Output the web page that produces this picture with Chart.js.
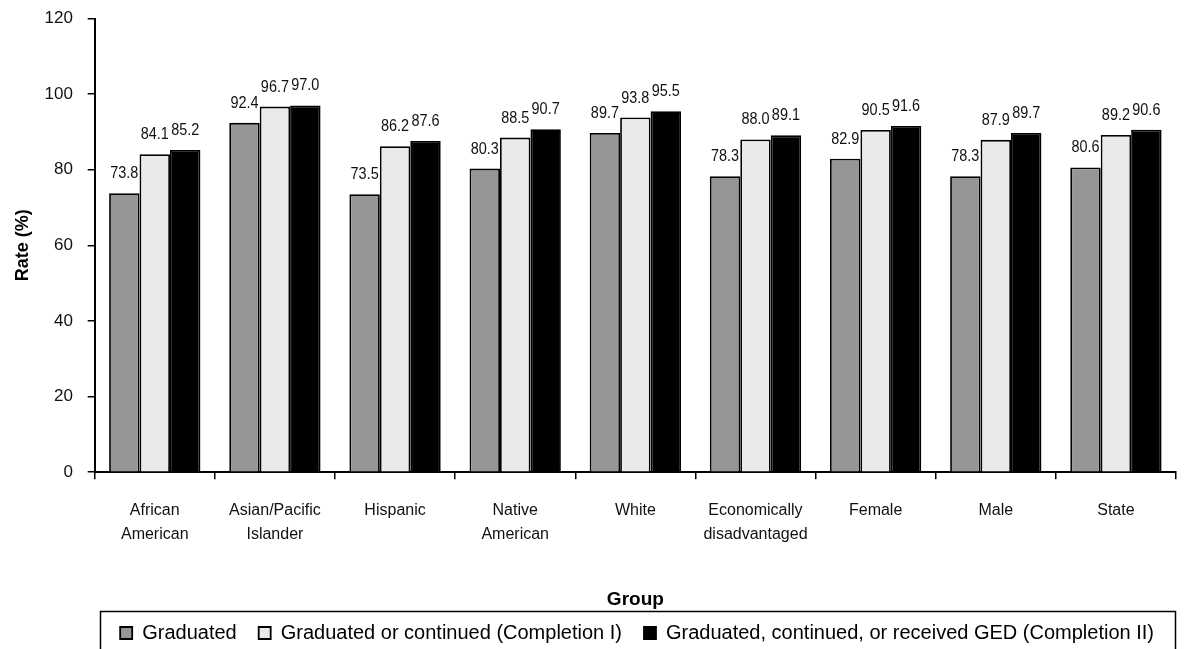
<!DOCTYPE html>
<html>
<head>
<meta charset="utf-8">
<script src="https://cdn.jsdelivr.net/npm/chart.js@4.4.1/dist/chart.umd.min.js"></script>
<style>
  html, body { margin: 0; padding: 0; background: #fff; }
  #wrap { width: 1186px; height: 649px; }
</style>
</head>
<body>
<div id="wrap"><canvas id="ch" width="1186" height="649"></canvas></div>
<script>
'use strict';

const groups = [
  ['African', 'American'], ['Asian/Pacific', 'Islander'], 'Hispanic',
  ['Native', 'American'], 'White', ['Economically', 'disadvantaged'],
  'Female', 'Male', 'State'
];
const graduated   = [73.8, 92.4, 73.5, 80.3, 89.7, 78.3, 82.9, 78.3, 80.6];
const completion1 = [84.1, 96.7, 86.2, 88.5, 93.8, 88.0, 90.5, 87.9, 89.2];
const completion2 = [85.2, 97.0, 87.6, 90.7, 95.5, 89.1, 91.6, 89.7, 90.6];
const seriesNames = [
  'Graduated',
  'Graduated or continued (Completion I)',
  'Graduated, continued, or received GED (Completion II)'
];
const yTicks = [0, 20, 40, 60, 80, 100, 120];

const FONT = '"Liberation Sans", Arial, sans-serif';

// value labels above each bar (slightly condensed, like the original)
const barLabels = {
  id: 'barLabels',
  afterDatasetsDraw(chart) {
    const ctx = chart.ctx;
    chart.data.datasets.forEach((ds, i) => {
      chart.getDatasetMeta(i).data.forEach((bar, j) => {
        ctx.save();
        ctx.font = '17px ' + FONT;
        ctx.fillStyle = '#111';
        ctx.textAlign = 'center';
        ctx.textBaseline = 'alphabetic';
        ctx.translate(bar.x, bar.y - 15);
        ctx.scale(0.85, 1);
        ctx.fillText(ds.data[j].toFixed(1), 0, 0);
        ctx.restore();
      });
    });
  }
};

// frame around the legend
const legendFrame = {
  id: 'legendFrame',
  afterDraw(chart) {
    const ctx = chart.ctx;
    ctx.save();
    ctx.strokeStyle = '#000';
    ctx.lineWidth = 1.5;
    ctx.strokeRect(100.5, 611.5, 1075, 60);
    ctx.restore();
  }
};

const mk = (label, data, color) => ({
  label, data, backgroundColor: color, borderColor: '#000', borderWidth: 1.8,
  categoryPercentage: 0.76, barPercentage: 1.0
});

new Chart(document.getElementById('ch').getContext('2d'), {
  type: 'bar',
  data: {
    labels: groups,
    datasets: [
      mk(seriesNames[0], graduated, '#969696'),
      mk(seriesNames[1], completion1, '#eaeaea'),
      mk(seriesNames[2], completion2, '#000000')
    ]
  },
  options: {
    responsive: false,
    animation: false,
    layout: { padding: { top: 3, right: 10, left: 6, bottom: -4 } },
    plugins: {
      legend: {
        position: 'bottom',
        align: 'end',
        labels: {
          font: { size: 20, family: FONT }, color: '#000',
          boxWidth: 12, boxHeight: 12, padding: 22
        }
      },
      tooltip: { enabled: false }
    },
    scales: {
      x: {
        grid: { display: true, drawOnChartArea: false, color: '#000', tickLength: 7, lineWidth: 1.5 },
        border: { color: '#000', width: 2 },
        ticks: { font: { size: 16, family: FONT, lineHeight: 1.5 }, color: '#111', maxRotation: 0, padding: 19 },
        title: { display: true, text: 'Group', font: { size: 19, weight: 'bold', family: FONT }, color: '#000', padding: { top: 23, bottom: -10 } }
      },
      y: {
        min: 0, max: 120,
        afterBuildTicks: s => { s.ticks = yTicks.map(v => ({ value: v })); },
        grid: { display: true, drawOnChartArea: false, color: '#000', tickLength: 7, lineWidth: 1.5 },
        border: { color: '#000', width: 2 },
        ticks: { font: { size: 17, family: FONT, lineHeight: 1 }, color: '#111', padding: 10, callback: v => v + ' ' },
        title: { display: true, text: 'Rate (%)', font: { size: 18, weight: 'bold', family: FONT }, color: '#000', padding: { top: 6, bottom: 1 } }
      }
    }
  },
  plugins: [barLabels, legendFrame]
});
</script>
</body>
</html>
